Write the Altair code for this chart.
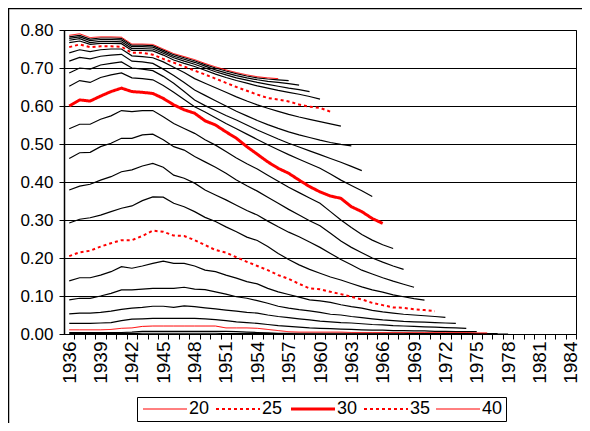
import altair as alt
import pandas as pd

FIRST_YEAR = 1936

# Values per age line (years 1936 .. last year of each line)
age_40 = [0.786,0.790,0.780,0.782,0.782,0.781,0.763,0.763,0.762,0.750,0.738,0.730,0.722,0.712,0.703,0.695,0.688,0.682,0.677,0.674,0.672]
age_39 = [0.782,0.786,0.776,0.779,0.779,0.778,0.760,0.760,0.759,0.747,0.735,0.727,0.719,0.709,0.700,0.692,0.685,0.679,0.674,0.671,0.669,0.667]
age_38 = [0.778,0.782,0.772,0.775,0.775,0.774,0.756,0.756,0.755,0.743,0.731,0.723,0.715,0.705,0.695,0.687,0.680,0.674,0.669,0.665,0.662,0.659,0.655]
age_37 = [0.773,0.777,0.767,0.770,0.770,0.769,0.751,0.751,0.750,0.739,0.727,0.718,0.710,0.700,0.690,0.682,0.674,0.668,0.662,0.657,0.652,0.647,0.643,0.638]
age_36 = [0.767,0.771,0.762,0.765,0.765,0.764,0.746,0.746,0.745,0.734,0.721,0.712,0.704,0.694,0.684,0.675,0.667,0.660,0.653,0.647,0.641,0.636,0.631,0.625,0.618]
age_35 = [0.755,0.762,0.755,0.757,0.757,0.756,0.740,0.740,0.735,0.724,0.714,0.704,0.693,0.683,0.672,0.661,0.650,0.640,0.630,0.621,0.617,0.612,0.604,0.598,0.595,0.585]
age_34 = [0.740,0.748,0.743,0.748,0.750,0.750,0.732,0.730,0.727,0.716,0.702,0.688,0.672,0.660,0.648,0.636,0.624,0.613,0.603,0.594,0.586,0.578,0.571,0.565,0.559,0.553,0.547]
age_33 = [0.718,0.728,0.724,0.731,0.734,0.736,0.718,0.716,0.712,0.697,0.680,0.662,0.642,0.628,0.614,0.600,0.586,0.574,0.562,0.551,0.541,0.532,0.524,0.517,0.510,0.504,0.499,0.495]
age_32 = [0.687,0.700,0.697,0.708,0.712,0.716,0.700,0.697,0.693,0.678,0.660,0.638,0.616,0.601,0.588,0.575,0.563,0.550,0.537,0.525,0.513,0.502,0.492,0.482,0.472,0.462,0.452,0.441,0.430]
age_31 = [0.652,0.667,0.662,0.675,0.682,0.687,0.674,0.672,0.669,0.654,0.636,0.617,0.598,0.584,0.569,0.554,0.540,0.526,0.512,0.498,0.485,0.472,0.460,0.448,0.436,0.421,0.405,0.391,0.377,0.362]
age_30 = [0.600,0.616,0.613,0.626,0.638,0.647,0.638,0.636,0.633,0.620,0.603,0.590,0.581,0.561,0.550,0.532,0.515,0.493,0.473,0.453,0.436,0.423,0.405,0.388,0.374,0.363,0.357,0.335,0.322,0.304,0.291]
age_29 = [0.540,0.552,0.552,0.565,0.574,0.588,0.585,0.588,0.588,0.572,0.554,0.541,0.528,0.511,0.497,0.480,0.463,0.448,0.434,0.418,0.402,0.386,0.372,0.358,0.344,0.322,0.300,0.280,0.262,0.247,0.235,0.225]
age_28 = [0.462,0.477,0.478,0.493,0.502,0.515,0.515,0.524,0.526,0.511,0.493,0.484,0.467,0.453,0.439,0.423,0.405,0.390,0.376,0.360,0.344,0.328,0.313,0.298,0.285,0.265,0.245,0.228,0.214,0.200,0.189,0.179,0.170]
age_27 = [0.379,0.389,0.394,0.405,0.414,0.427,0.432,0.442,0.449,0.439,0.418,0.410,0.397,0.379,0.366,0.353,0.339,0.325,0.313,0.297,0.282,0.268,0.256,0.242,0.228,0.212,0.196,0.182,0.168,0.158,0.148,0.139,0.131,0.123]
age_26 = [0.292,0.302,0.306,0.313,0.322,0.331,0.337,0.351,0.361,0.360,0.344,0.335,0.322,0.307,0.296,0.282,0.269,0.255,0.246,0.230,0.212,0.196,0.182,0.170,0.160,0.150,0.142,0.133,0.124,0.116,0.110,0.103,0.098,0.093,0.089]
age_25 = [0.205,0.215,0.219,0.230,0.239,0.247,0.247,0.258,0.272,0.269,0.259,0.258,0.247,0.234,0.221,0.214,0.202,0.190,0.179,0.168,0.155,0.145,0.132,0.120,0.118,0.111,0.105,0.098,0.091,0.082,0.076,0.070,0.069,0.065,0.063,0.060]
age_24 = [0.140,0.148,0.148,0.155,0.164,0.177,0.173,0.179,0.186,0.192,0.186,0.186,0.179,0.168,0.164,0.155,0.147,0.138,0.132,0.120,0.111,0.104,0.097,0.090,0.087,0.083,0.077,0.072,0.068,0.062,0.058,0.055,0.052,0.050,0.048,0.046,0.044]
age_23 = [0.090,0.094,0.094,0.100,0.107,0.116,0.116,0.118,0.120,0.120,0.120,0.123,0.118,0.117,0.111,0.105,0.098,0.094,0.088,0.081,0.073,0.068,0.064,0.061,0.057,0.052,0.050,0.046,0.043,0.040,0.037,0.035,0.033,0.032,0.031,0.030,0.029,0.028]
age_22 = [0.053,0.055,0.055,0.057,0.060,0.065,0.068,0.070,0.073,0.073,0.070,0.074,0.072,0.069,0.066,0.063,0.060,0.057,0.055,0.050,0.046,0.043,0.040,0.037,0.034,0.032,0.030,0.029,0.027,0.025,0.024,0.022,0.021,0.020,0.019,0.018,0.017,0.016,0.015]
age_21 = [0.028,0.028,0.028,0.029,0.030,0.035,0.039,0.040,0.041,0.041,0.041,0.041,0.041,0.040,0.038,0.035,0.032,0.030,0.028,0.025,0.022,0.020,0.018,0.016,0.015,0.014,0.013,0.012,0.011,0.010,0.010,0.009,0.009,0.008,0.008,0.007,0.007,0.006,0.006,0.006]
age_20 = [0.011,0.011,0.011,0.011,0.012,0.015,0.016,0.020,0.021,0.021,0.021,0.021,0.021,0.021,0.021,0.016,0.016,0.016,0.015,0.012,0.009,0.006,0.005,0.005,0.005,0.005,0.005,0.004,0.004,0.004,0.004,0.004,0.004,0.004,0.004,0.004,0.004,0.004,0.004,0.003,0.003]
age_19 = [0.004,0.004,0.004,0.004,0.004,0.004,0.005,0.007,0.007,0.007,0.007,0.007,0.007,0.007,0.007,0.007,0.006,0.005,0.004,0.003,0.002,0.002,0.002,0.002,0.002,0.002,0.002,0.002,0.002,0.002,0.002,0.002,0.002,0.001,0.001,0.001,0.001,0.001,0.001,0.001,0.001,0.001]
age_18 = [0.001,0.001,0.001,0.001,0.001,0.001,0.001,0.002,0.002,0.002,0.002,0.002,0.002,0.002,0.002,0.001,0.001,0.001,0.001,0.001,0.001,0.001,0.000,0.000,0.000,0.000,0.000,0.000,0.000,0.000,0.000,0.000,0.000,0.000,0.000,0.000,0.000,0.000,0.000,0.000,0.000,0.000,0.000]

highlight_ages = ["20", "25", "30", "35", "40"]
highlight_dash = [[1, 0], [3, 3], [1, 0], [3, 3], [1, 0]]
highlight_width = [1, 2, 3, 2, 1]

year_ticks = list(range(1936, 1985))
y_ticks = [0.0, 0.1, 0.2, 0.3, 0.4, 0.5, 0.6, 0.7, 0.8]

series = {
    "18": age_18, "19": age_19, "20": age_20, "21": age_21, "22": age_22,
    "23": age_23, "24": age_24, "25": age_25, "26": age_26, "27": age_27,
    "28": age_28, "29": age_29, "30": age_30, "31": age_31, "32": age_32,
    "33": age_33, "34": age_34, "35": age_35, "36": age_36, "37": age_37,
    "38": age_38, "39": age_39, "40": age_40,
}
width_of = dict(zip(highlight_ages, highlight_width))

rows = []
for age, vals in series.items():
    for i, v in enumerate(vals):
        rows.append({"age": age, "year": FIRST_YEAR + i, "value": v,
                     "w": width_of.get(age, 1.2)})
df = pd.DataFrame(rows)

black_df = df[~df["age"].isin(highlight_ages)]
red_df = df[df["age"].isin(highlight_ages)]

W, H = 512, 304
step = W / 49.0

x_enc = alt.X(
    "year:Q",
    scale=alt.Scale(domain=[1935.5, 1984.5], nice=False, zero=False),
    axis=alt.Axis(
        values=year_ticks,
        labelExpr="(datum.value - 1936) % 3 == 0 ? datum.value : ''",
        labelAngle=270,
        tickOffset=step / 2,
        labelOffset=-step / 2,
        grid=False,
        title=None,
        tickSize=5,
        tickColor="black",
        domainColor="black",
        labelColor="black",
        labelFontSize=19,
        labelPadding=2,
        labelFlush=False,
        labelOverlap=False,
    ),
)
y_enc = alt.Y(
    "value:Q",
    scale=alt.Scale(domain=[0, 0.8], nice=False),
    axis=alt.Axis(
        values=y_ticks,
        format=".2f",
        grid=True,
        gridColor="black",
        gridOpacity=1,
        gridWidth=1,
        title=None,
        tickSize=5,
        tickColor="black",
        domainColor="black",
        domainWidth=1.5,
        labelColor="black",
        labelFontSize=17,
        labelPadding=6,
    ),
)

frame = alt.Chart(pd.DataFrame({"k": [0]})).mark_rect(
    fill=None, stroke="black", strokeWidth=1.5, clip=False
).encode(
    x=alt.value(-55.5), x2=alt.value(700), y=alt.value(-21.5), y2=alt.value(600)
)

black_lines = alt.Chart(black_df).mark_line(color="black", strokeWidth=1.2).encode(
    x=x_enc, y=y_enc, detail="age:N", order="year:Q"
)

leg = alt.Legend(
    title=None,
    orient="none",
    legendX=73,
    legendY=367,
    direction="horizontal",
    columns=5,
    strokeColor="black",
    padding=3,
    symbolType="M-2.2,0H2.2",
    symbolSize=400,
    symbolOffset=16,
    symbolStrokeWidth=alt.ExprRef(
        "datum.value == '30' ? 3 : ((datum.value == '25' || datum.value == '35') ? 2 : 1)"
    ),
    labelFontSize=18,
    labelColor="black",
    columnPadding=2,
    labelOffset=15,
)

red_lines = alt.Chart(red_df).mark_line().encode(
    x=x_enc,
    y=y_enc,
    order="year:Q",
    color=alt.Color("age:N", scale=alt.Scale(domain=highlight_ages, range=["#ff0000"] * 5), legend=leg),
    strokeDash=alt.StrokeDash("age:N", scale=alt.Scale(domain=highlight_ages, range=highlight_dash), legend=leg),
    strokeWidth=alt.StrokeWidth("w:Q", scale=None),
)

chart = alt.layer(frame, black_lines, red_lines).properties(
    width=W,
    height=H,
    autosize=alt.AutoSizeParams(type="none"),
    padding={"left": 56, "top": 22, "right": 6, "bottom": 89},
).configure(
    font="Liberation Sans",
).configure_view(
    stroke="black", strokeWidth=1
)

chart.save("out.html", embed_options={"renderer": "svg", "actions": False})
